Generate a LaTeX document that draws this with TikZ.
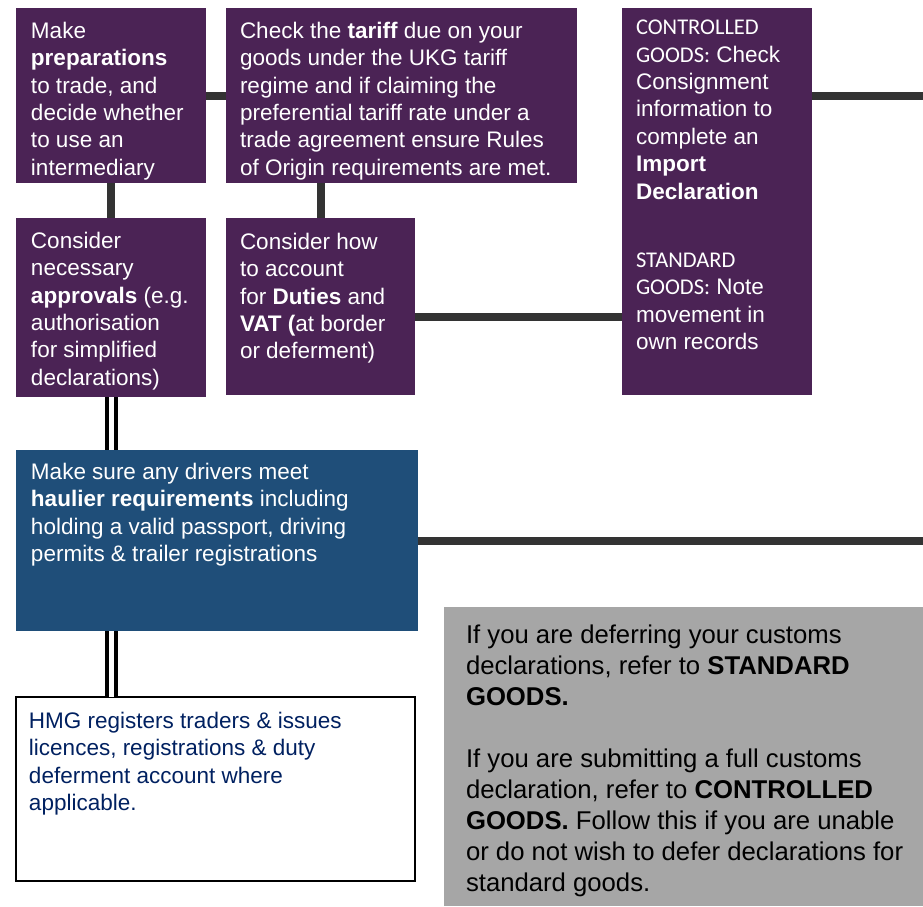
\documentclass[tikz,border=0pt]{standalone}
\usepackage{fontspec}
\setmainfont{Liberation Sans}
\newfontfamily\carlito{Carlito}

\definecolor{ukpurple}{RGB}{75,35,85}
\definecolor{ukblue}{RGB}{31,78,121}
\definecolor{notegray}{RGB}{166,166,166}
\definecolor{linegray}{RGB}{51,51,51}
\definecolor{hmgnavy}{RGB}{0,32,96}

\newcommand{\boxtext}[5]{\parbox[t][#2pt][t]{#1pt}{\raggedright\leftskip=#3pt\relax\vspace*{#4pt}#5}}

\begin{document}
\begin{tikzpicture}[x=1pt,y=-1pt,
  flowbox/.style={anchor=north west,inner sep=0pt,outer sep=0pt,text=white,font=\fontsize{22.5}{27.4}\selectfont},
  purplebox/.style={flowbox,fill=ukpurple},
  bluebox/.style={flowbox,fill=ukblue},
  whitebox/.style={flowbox,draw=black,line width=2pt,text=hmgnavy},
  graybox/.style={flowbox,fill=notegray,text=black,font=\fontsize{25.7}{31}\selectfont},
  link/.style={linegray,line width=8pt},
  twin/.style={draw=black,double=white,double distance=5pt,line width=4pt}]
\useasboundingbox (0,0) rectangle (923,906);

\node[purplebox] (prep) at (16,8) {\boxtext{190}{175}{15}{14}{Make\\ \textbf{preparations}\\ to trade, and\\ decide whether\\ to use an\\ intermediary}};
\node[purplebox] (tariff) at (226,8) {\boxtext{351}{175}{14}{14}{Check the \textbf{tariff} due on your\\ goods under the UKG tariff\\ regime and if claiming the\\ preferential tariff rate under a\\ trade agreement ensure Rules\\ of Origin requirements are met.}};
\node[purplebox] (check) at (622,8) {\boxtext{190}{387}{14}{12}{{\carlito CONTROLLED}\\ {\carlito GOODS:} Check\\ Consignment\\ information to\\ complete an\\ \textbf{Import}\\ \textbf{Declaration}\\[41pt] {\carlito STANDARD}\\ {\carlito GOODS:} Note\\ movement in\\ own records}};
\node[purplebox] (approv) at (16,218) {\boxtext{190}{179}{15}{14}{Consider\\ necessary\\ \textbf{approvals} (e.g.\\ authorisation\\ for simplified\\ declarations)}};
\node[purplebox] (acct) at (226,218) {\boxtext{189}{177}{14}{15}{Consider how\\ to account\\ for \textbf{Duties} and\\ \textbf{VAT (}at border\\ or deferment)}};
\node[bluebox] (haul) at (16,450) {\boxtext{402}{181}{15}{13}{Make sure any drivers meet\\ \textbf{haulier requirements} including\\ holding a valid passport, driving\\ permits \& trailer registrations}};
\node[whitebox] (hmg) at (16,697) {\boxtext{399}{184}{13}{15}{HMG registers traders \& issues\\ licences, registrations \& duty\\ deferment account where\\ applicable.}};
\node[graybox] (note) at (444,607) {\boxtext{479}{299}{22}{18}{If you are deferring your customs\\ declarations, refer to \textbf{STANDARD}\\ \textbf{GOODS.}\\[31pt] If you are submitting a full customs\\ declaration, refer to \textbf{CONTROLLED}\\ \textbf{GOODS.} Follow this if you are unable\\ or do not wish to defer declarations for\\ standard goods.}};

\coordinate (edge) at (923,0);
\draw[link] (prep.east) -- (tariff.west);
\draw[link] (prep.south) -- (approv.north);
\draw[link] (acct.north) -- (acct.north |- tariff.south);
\draw[link] (check.east |- prep.east) -- (edge |- prep.east);
\draw[link] ([yshift=-10pt]acct.east) -- ([yshift=-10pt]acct.east -| check.west);
\draw[link] (haul.east) -- (haul.east -| edge);
\draw[twin] (approv.south) -- (approv.south |- haul.north);
\draw[twin] (approv.south |- haul.south) -- (approv.south |- hmg.north);
\end{tikzpicture}
\end{document}
